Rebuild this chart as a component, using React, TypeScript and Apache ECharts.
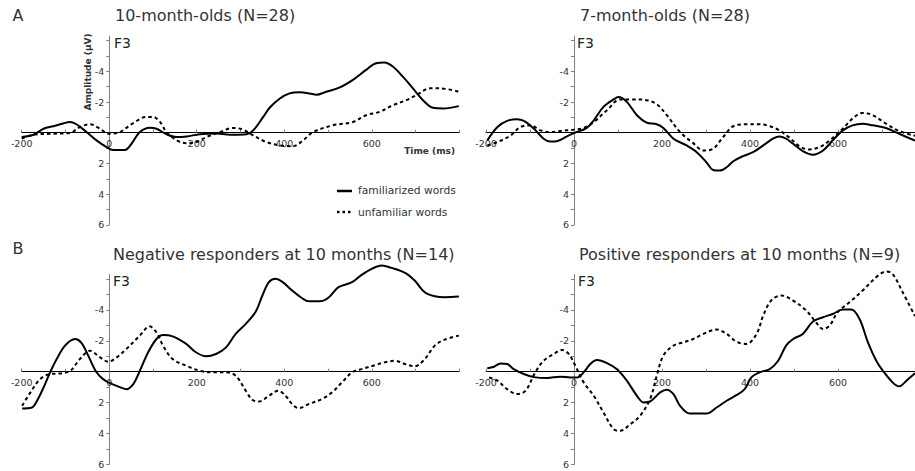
import React, { useEffect, useRef } from "react";
import * as echarts from "echarts";

// ---- data ----
const seriesNames = ["familiarized words", "unfamiliar words"];
const panelTitles = [
  "10-month-olds (N=28)",
  "7-month-olds (N=28)",
  "Negative responders at 10 months (N=14)",
  "Positive responders at 10 months (N=9)",
];
const panelLetters = ["A", "B"];
const channelLabel = "F3";
const xTickLabels = [-200, 0, 200, 400, 600];
const yTickLabels = [-4, -2, 2, 4, 6];
const yTickValues = [-6, -5, -4, -3, -2, -1, 1, 2, 3, 4, 5, 6];

// Panel A: 10-month-olds
const tenFamiliar: [number, number][] = [
  [-200, 0.28], [-173, 0.13], [-150, -0.26], [-128, -0.42], [-105, -0.6], [-90, -0.7],
  [-75, -0.55], [-52, -0.05], [-29, 0.5], [-6, 0.94], [9, 1.12], [36, 1.12], [51, 0.72],
  [70, -0.05], [93, -0.33], [108, -0.26], [131, 0.1], [154, 0.28], [177, 0.24], [207, 0.1],
  [245, 0.06], [283, 0.13], [314, 0.1], [329, -0.15], [352, -1.03], [367, -1.64],
  [390, -2.23], [412, -2.56], [435, -2.63], [458, -2.56], [473, -2.47], [496, -2.67],
  [527, -2.95], [557, -3.44], [587, -4.09], [610, -4.53], [629, -4.57], [648, -4.31],
  [671, -3.65], [694, -2.89], [717, -2.12], [740, -1.62], [763, -1.58], [799, -1.73],
];
const tenUnfamiliar: [number, number][] = [
  [-200, 0.39], [-173, 0.13], [-135, 0.07], [-90, 0.02], [-67, -0.37], [-44, -0.55],
  [-21, -0.26], [-2, 0.07], [24, -0.04], [55, -0.63], [85, -1.03], [100, -1.03],
  [116, -0.7], [131, -0.04], [154, 0.5], [177, 0.68], [199, 0.61], [222, 0.28],
  [253, -0.04], [283, -0.31], [306, -0.2], [329, 0.18], [359, 0.61], [390, 0.83],
  [420, 0.88], [443, 0.5], [466, -0.04], [511, -0.48], [557, -0.7], [587, -1.14],
  [618, -1.36], [648, -1.79], [679, -2.12], [702, -2.45], [733, -2.89], [755, -2.89],
  [799, -2.67],
];

// Panel B: 7-month-olds
const sevenFamiliar: [number, number][] = [
  [-197, 0.5], [-174, -0.37], [-152, -0.77], [-129, -0.88], [-114, -0.77], [-91, -0.26],
  [-69, 0.39], [-54, 0.57], [-39, 0.55], [-16, 0.24], [3, 0], [29, -0.31], [45, -0.81],
  [67, -1.68], [90, -2.17], [101, -2.32], [120, -2.01], [143, -1.14], [165, -0.66],
  [188, -0.55], [203, -0.31], [226, 0.39], [256, 0.83], [279, 1.27], [301, 1.93],
  [316, 2.43], [331, 2.47], [347, 2.25], [362, 1.86], [384, 1.53], [407, 1.27],
  [430, 0.83], [452, 0.39], [467, 0.24], [482, 0.39], [498, 0.72], [520, 1.2],
  [543, 1.44], [566, 1.16], [588, 0.5], [611, -0.15], [633, -0.48], [656, -0.59],
  [679, -0.48], [709, -0.31], [739, 0.07], [775, 0.52],
];
const sevenUnfamiliar: [number, number][] = [
  [-197, 0.83], [-174, 0.61], [-144, 0.18], [-122, -0.37], [-99, -0.48], [-76, -0.15],
  [-54, -0.04], [-31, -0.11], [-1, -0.2], [22, -0.31], [45, -0.7], [75, -1.47],
  [105, -2.17], [135, -2.17], [165, -2.12], [188, -1.86], [211, -1.14], [241, -0.04],
  [271, 0.68], [294, 1.16], [316, 1.05], [339, 0.28], [362, -0.42], [392, -0.55],
  [422, -0.55], [445, -0.42], [467, -0.15], [490, 0.33], [513, 0.9], [535, 1.09],
  [558, 0.94], [581, 0.5], [611, -0.26], [633, -0.92], [656, -1.29], [679, -1.14],
  [709, -0.59], [739, -0.11], [775, 0.2],
];

// Panel C: negative responders
const negFamiliar: [number, number][] = [
  [-199, 2.38], [-177, 2.32], [-165, 1.88], [-150, 1.02], [-135, 0.04], [-120, -0.82],
  [-101, -1.69], [-78, -2.12], [-63, -1.86], [-48, -1.04], [-29, 0.04], [-14, 0.48],
  [2, 0.74], [20, 0.95], [39, 1.13], [55, 0.8], [70, -0.06], [89, -1.26], [108, -2.12],
  [123, -2.38], [145, -2.29], [176, -1.8], [198, -1.26], [221, -1.0], [244, -1.15],
  [267, -1.58], [289, -2.45], [312, -3.1], [335, -3.9], [350, -4.94], [365, -5.8],
  [380, -6.02], [395, -5.84], [418, -5.26], [441, -4.76], [456, -4.57], [486, -4.59],
  [502, -4.83], [524, -5.48], [555, -5.8], [577, -6.28], [600, -6.67], [623, -6.88],
  [645, -6.73], [676, -6.41], [698, -5.91], [721, -5.15], [744, -4.89], [767, -4.83],
  [799, -4.87],
];
const negUnfamiliar: [number, number][] = [
  [-199, 2.21], [-180, 1.34], [-158, 0.48], [-135, 0.15], [-112, 0.11], [-89, -0.06],
  [-67, -0.82], [-44, -1.36], [-21, -0.93], [-2, -0.65], [17, -0.93], [39, -1.47],
  [70, -2.34], [92, -2.94], [108, -2.55], [123, -1.69], [145, -0.82], [176, -0.39],
  [206, -0.06], [236, 0.04], [267, 0.04], [289, 0.26], [312, 1.23], [327, 1.82],
  [342, 1.93], [365, 1.56], [386, 1.23], [403, 1.56], [418, 2.1], [433, 2.36],
  [456, 2.1], [486, 1.77], [509, 1.34], [532, 0.69], [555, 0.04], [577, -0.17],
  [608, -0.43], [630, -0.61], [653, -0.71], [676, -0.5], [698, -0.35], [721, -0.82],
  [744, -1.69], [767, -2.08], [799, -2.34],
];

// Panel D: positive responders
const posFamiliar: [number, number][] = [
  [-197, -0.22], [-182, -0.32], [-167, -0.54], [-152, -0.5], [-137, -0.17], [-114, 0.15],
  [-91, 0.35], [-61, 0.41], [-31, 0.32], [-8, 0.37], [7, 0.37], [22, 0.04], [37, -0.5],
  [52, -0.76], [75, -0.56], [97, -0.17], [120, 0.58], [143, 1.56], [158, 1.99],
  [173, 1.93], [196, 1.34], [211, 1.17], [226, 1.45], [241, 2.21], [263, 2.71],
  [301, 2.71], [324, 2.32], [347, 1.88], [369, 1.52], [388, 1.13], [403, 0.37],
  [422, 0.04], [445, -0.17], [464, -0.71], [482, -1.69], [498, -2.12], [520, -2.45],
  [543, -3.25], [566, -3.53], [588, -3.74], [611, -4.03], [630, -4.03], [649, -3.42],
  [668, -1.9], [687, -0.71], [702, -0.06], [724, 0.69], [739, 0.95], [758, 0.52],
  [775, 0.1],
];
const posUnfamiliar: [number, number][] = [
  [-193, 0.37], [-174, 0.58], [-152, 1.13], [-129, 1.45], [-110, 1.23], [-88, 0.04],
  [-69, -0.71], [-46, -1.15], [-27, -1.41], [-12, -1.15], [3, -0.39], [22, 0.69],
  [45, 1.56], [67, 2.64], [90, 3.72], [105, 3.83], [128, 3.4], [150, 2.86], [173, 1.77],
  [188, 0.26], [203, -1.04], [226, -1.69], [248, -1.9], [271, -2.12], [294, -2.45],
  [324, -2.73], [347, -2.45], [369, -1.95], [392, -1.8], [415, -2.45], [430, -3.64],
  [448, -4.61], [471, -4.94], [498, -4.61], [528, -3.96], [550, -3.2], [566, -2.77],
  [581, -2.99], [599, -3.85], [626, -4.5], [656, -5.26], [687, -6.13], [709, -6.49],
  [724, -6.34], [747, -5.15], [775, -3.6],
];

const panelData: [number, number][][][] = [
  [tenFamiliar, tenUnfamiliar],
  [sevenFamiliar, sevenUnfamiliar],
  [negFamiliar, negUnfamiliar],
  [posFamiliar, posUnfamiliar],
];

// ---- layout / style ----
const FONT = "DejaVu Sans";
const TEXT = "#333";
const AXIS_GRAY = "#808080";
const DASH = [3.5, 3];
const X_MIN = -200;
const Y_MIN = -6.3;
const Y_MAX = 6;

const grids = [
  { left: 21.7, top: 36, width: 437.6, height: 188.8, xMax: 800 },
  { left: 486, top: 36, width: 429, height: 188.8, xMax: 775 },
  { left: 21.7, top: 274.5, width: 437.6, height: 189.8, xMax: 800 },
  { left: 486, top: 274.5, width: 429, height: 189.8, xMax: 775 },
];

function buildOption() {
  const gridOpts = grids.map((g) => ({
    left: g.left,
    top: g.top,
    width: g.width,
    height: g.height,
    containLabel: false,
    outerBoundsMode: "none",
  }));
  // axes cross at (0 ms, 0 µV): shift each axis from the grid edge to the zero line
  const xAxes = grids.map((g, i) => ({
    type: "value",
    gridIndex: i,
    position: "bottom",
    offset: -(Y_MAX / (Y_MAX - Y_MIN)) * g.height,
    min: X_MIN,
    max: g.xMax,
    interval: 100,
    axisLine: { onZero: false, lineStyle: { color: "#000", width: 1 } },
    axisTick: { show: true, inside: true, length: 3, lineStyle: { color: AXIS_GRAY } },
    axisLabel: {
      customValues: xTickLabels,
      color: TEXT,
      fontFamily: FONT,
      fontSize: 9.5,
      margin: 6,
    },
    splitLine: { show: false },
  }));
  const yAxes = grids.map((g, i) => ({
    type: "value",
    gridIndex: i,
    position: "left",
    offset: -((0 - X_MIN) / (g.xMax - X_MIN)) * g.width,
    inverse: true,
    min: Y_MIN,
    max: Y_MAX,
    axisLine: { onZero: false, lineStyle: { color: AXIS_GRAY, width: 1 } },
    axisTick: { show: true, customValues: yTickValues, length: 3, lineStyle: { color: AXIS_GRAY } },
    axisLabel: {
      customValues: yTickLabels,
      color: TEXT,
      fontFamily: FONT,
      fontSize: 9.5,
      margin: 5,
    },
    splitLine: { show: false },
  }));
  const series: any[] = [];
  panelData.forEach((pair, i) => {
    pair.forEach((data, k) => {
      series.push({
        type: "line",
        name: seriesNames[k],
        xAxisIndex: i,
        yAxisIndex: i,
        data,
        smooth: 0.35,
        symbol: "none",
        showSymbol: false,
        clip: false,
        silent: true,
        lineStyle: { color: "#000", width: 2, type: k === 0 ? "solid" : DASH },
      });
    });
  });

  const titleFont = `16px ${FONT}`;
  const f3Font = `14px ${FONT}`;
  const graphic: any[] = [
    { type: "text", x: 12.5, y: 15, style: { text: panelLetters[0], font: titleFont, fill: TEXT, verticalAlign: "middle" } },
    { type: "text", x: 12.5, y: 248, style: { text: panelLetters[1], font: titleFont, fill: TEXT, verticalAlign: "middle" } },
    { type: "text", x: 115, y: 15, style: { text: panelTitles[0], font: titleFont, fill: TEXT, verticalAlign: "middle" } },
    { type: "text", x: 580, y: 15, style: { text: panelTitles[1], font: titleFont, fill: TEXT, verticalAlign: "middle" } },
    { type: "text", x: 113, y: 254.5, style: { text: panelTitles[2], font: titleFont, fill: TEXT, verticalAlign: "middle" } },
    { type: "text", x: 579, y: 254.5, style: { text: panelTitles[3], font: titleFont, fill: TEXT, verticalAlign: "middle" } },
    { type: "text", x: 114, y: 43, style: { text: channelLabel, font: f3Font, fill: "#222", verticalAlign: "middle" } },
    { type: "text", x: 577, y: 43, style: { text: channelLabel, font: f3Font, fill: "#222", verticalAlign: "middle" } },
    { type: "text", x: 113, y: 281, style: { text: channelLabel, font: f3Font, fill: "#222", verticalAlign: "middle" } },
    { type: "text", x: 578, y: 281, style: { text: channelLabel, font: f3Font, fill: "#222", verticalAlign: "middle" } },
    {
      type: "text",
      x: 87.5,
      y: 72,
      rotation: Math.PI / 2,
      style: { text: "Amplitude (µV)", font: `bold 9px ${FONT}`, fill: TEXT, align: "center", verticalAlign: "middle" },
    },
    { type: "text", x: 455, y: 151, style: { text: "Time (ms)", font: `bold 9px ${FONT}`, fill: TEXT, align: "right", verticalAlign: "middle" } },
    { type: "line", shape: { x1: 337, y1: 191, x2: 352, y2: 191 }, style: { stroke: "#000", lineWidth: 2.5 } },
    { type: "line", shape: { x1: 337, y1: 212, x2: 353, y2: 212 }, style: { stroke: "#000", lineWidth: 2.5, lineDash: [2.5, 3] } },
    { type: "text", x: 358, y: 190.5, style: { text: seriesNames[0], font: `10.7px ${FONT}`, fill: TEXT, verticalAlign: "middle" } },
    { type: "text", x: 358, y: 212, style: { text: seriesNames[1], font: `10.7px ${FONT}`, fill: TEXT, verticalAlign: "middle" } },
  ];

  return {
    animation: false,
    backgroundColor: "#fff",
    grid: gridOpts,
    xAxis: xAxes,
    yAxis: yAxes,
    series,
    graphic,
  };
}

export default function App() {
  const ref = useRef<HTMLDivElement>(null);
  useEffect(() => {
    if (!ref.current) return;
    const chart = echarts.init(ref.current, null, { renderer: "svg" });
    chart.setOption(buildOption() as any);
    return () => chart.dispose();
  }, []);
  return (
    <div
      ref={ref}
      style={{ position: "absolute", left: 0, top: 0, width: 915, height: 471, background: "#fff" }}
    />
  );
}
